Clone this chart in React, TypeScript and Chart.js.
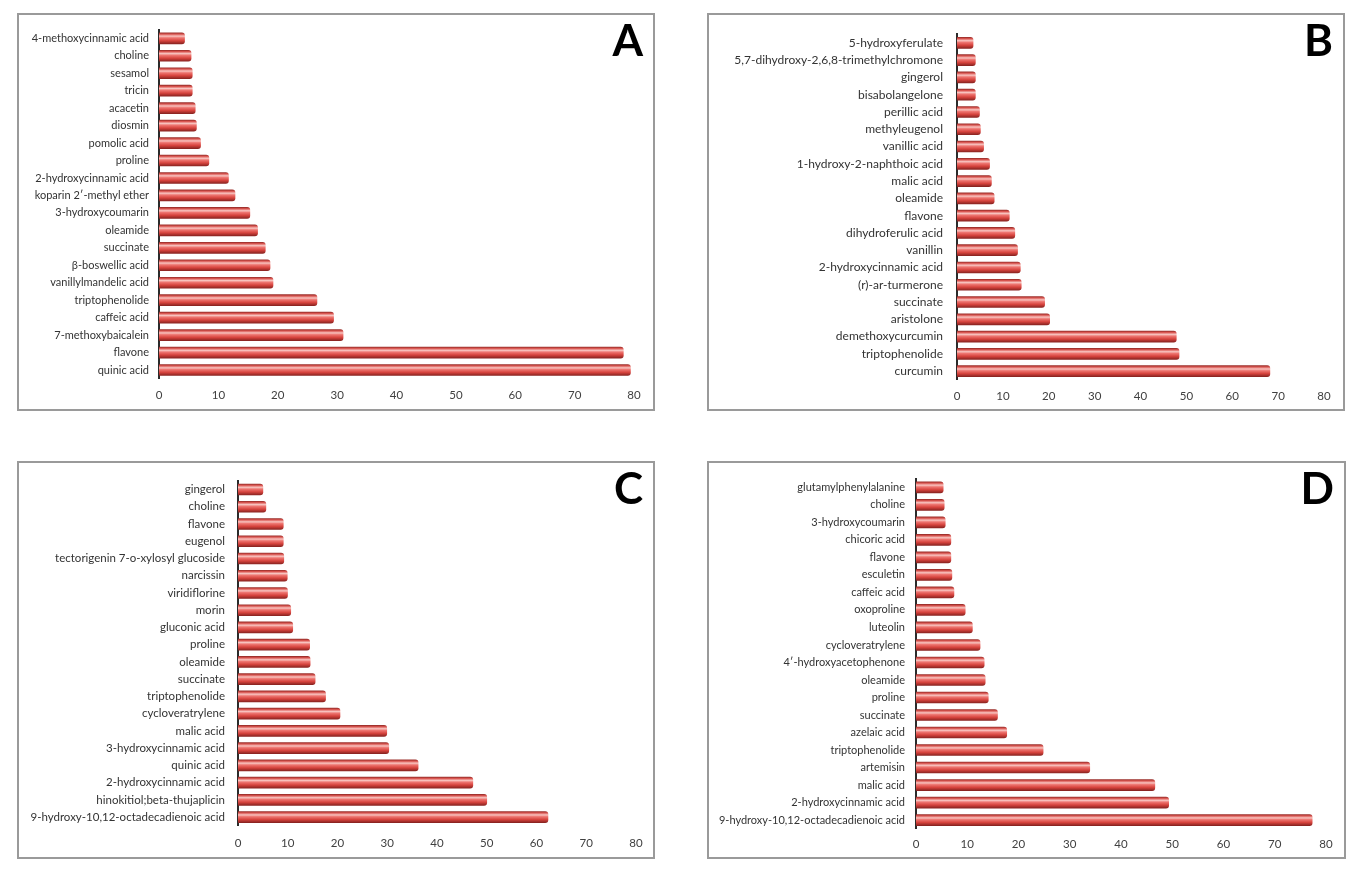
import React, { useEffect, useRef } from 'react';
import { Chart, registerables } from 'chart.js';

Chart.register(...registerables);

// ---------- DATA ----------
const X_MIN = 0;
const X_MAX = 80;
const X_STEP = 10;

const labelsA = ['4-methoxycinnamic acid', 'choline', 'sesamol', 'tricin', 'acacetin', 'diosmin', 'pomolic acid', 'proline', '2-hydroxycinnamic acid', 'koparin 2′-methyl ether', '3-hydroxycoumarin', 'oleamide', 'succinate', 'β-boswellic acid', 'vanillylmandelic acid', 'triptophenolide', 'caffeic acid', '7-methoxybaicalein', 'flavone', 'quinic acid'];
const valuesA = [4.3, 5.4, 5.6, 5.6, 6.1, 6.3, 7.0, 8.4, 11.7, 12.8, 15.3, 16.6, 17.9, 18.7, 19.2, 26.6, 29.4, 31.0, 78.2, 79.4];

const labelsB = ['5-hydroxyferulate', '5,7-dihydroxy-2,6,8-trimethylchromone', 'gingerol', 'bisabolangelone', 'perillic acid', 'methyleugenol', 'vanillic acid', '1-hydroxy-2-naphthoic acid', 'malic acid', 'oleamide', 'flavone', 'dihydroferulic acid', 'vanillin', '2-hydroxycinnamic acid', '(r)-ar-turmerone', 'succinate', 'aristolone', 'demethoxycurcumin', 'triptophenolide', 'curcumin'];
const valuesB = [3.5, 4.0, 4.0, 4.0, 4.9, 5.1, 5.8, 7.1, 7.5, 8.1, 11.4, 12.6, 13.2, 13.8, 14.0, 19.1, 20.2, 47.8, 48.4, 68.2];

const labelsC = ['gingerol', 'choline', 'flavone', 'eugenol', 'tectorigenin 7-o-xylosyl glucoside', 'narcissin', 'viridiflorine', 'morin', 'gluconic acid', 'proline', 'oleamide', 'succinate', 'triptophenolide', 'cycloveratrylene', 'malic acid', '3-hydroxycinnamic acid', 'quinic acid', '2-hydroxycinnamic acid', 'hinokitiol;beta-thujaplicin', '9-hydroxy-10,12-octadecadienoic acid'];
const valuesC = [5.0, 5.6, 9.1, 9.1, 9.2, 9.9, 9.95, 10.6, 11.0, 14.4, 14.5, 15.5, 17.6, 20.5, 29.9, 30.3, 36.2, 47.2, 50.0, 62.3];

const labelsD = ['glutamylphenylalanine', 'choline', '3-hydroxycoumarin', 'chicoric acid', 'flavone', 'esculetin', 'caffeic acid', 'oxoproline', 'luteolin', 'cycloveratrylene', '4′-hydroxyacetophenone', 'oleamide', 'proline', 'succinate', 'azelaic acid', 'triptophenolide', 'artemisin', 'malic acid', '2-hydroxycinnamic acid', '9-hydroxy-10,12-octadecadienoic acid'];
const valuesD = [5.3, 5.5, 5.7, 6.8, 6.8, 7.0, 7.4, 9.6, 11.0, 12.5, 13.3, 13.5, 14.1, 15.9, 17.7, 24.8, 33.9, 46.6, 49.3, 77.3];

const panelLetters = ['A', 'B', 'C', 'D'];

// ---------- LAYOUT (page pixel geometry) ----------
type Geo = {
  bx: number; by: number; bw: number; bh: number;
  axisX: number; endX: number; c0: number; c1: number; tickY: number;
  labelFont: number; gap: number;
};

const geoA: Geo = { bx: 17, by: 13, bw: 638, bh: 398, axisX: 159, endX: 634, c0: 37.7, c1: 370, tickY: 395, labelFont: 11, gap: 10 };
const geoB: Geo = { bx: 707, by: 13, bw: 638, bh: 398, axisX: 957, endX: 1324, c0: 37, c1: 371, tickY: 396, labelFont: 12, gap: 14 };
const geoC: Geo = { bx: 17, by: 461, bw: 638, bh: 398, axisX: 238, endX: 636, c0: 485.7, c1: 817, tickY: 843, labelFont: 11.5, gap: 13 };
const geoD: Geo = { bx: 707, by: 461, bw: 639, bh: 398, axisX: 916, endX: 1326, c0: 484.5, c1: 820, tickY: 844, labelFont: 11, gap: 11 };

const FONT = 'Lato, "Open Sans", sans-serif';

function makeGradient(ctx: CanvasRenderingContext2D, y0: number, y1: number) {
  const g = ctx.createLinearGradient(0, y0, 0, y1);
  g.addColorStop(0, '#9c2f2b');
  g.addColorStop(0.12, '#d9544f');
  g.addColorStop(0.3, '#f8c4c0');
  g.addColorStop(0.46, '#ee7570');
  g.addColorStop(0.72, '#d6433d');
  g.addColorStop(1, '#8a2421');
  return g;
}

type PanelProps = { labels: string[]; values: number[]; letter: string; geo: Geo };

function Panel({ labels, values, letter, geo }: PanelProps) {
  const ref = useRef<HTMLCanvasElement | null>(null);

  useEffect(() => {
    if (!ref.current) return;
    const n = labels.length;
    const spacing = (geo.c1 - geo.c0) / (n - 1);
    const plotTop = geo.c0 - spacing / 2;
    const plotBottom = geo.c1 + spacing / 2;
    const yAxisWidth = geo.axisX - geo.bx;
    const padTop = plotTop - geo.by;
    const padRight = geo.bx + geo.bw - geo.endX;
    const xAxisHeight = geo.by + geo.bh - plotBottom;
    const tickFont = 11.5;
    const tickPad = geo.tickY - plotBottom - (tickFont * 1.2) / 2;
    const barThickness = 11;

    const chart = new Chart(ref.current, {
      type: 'bar',
      data: {
        labels,
        datasets: [
          {
            data: values,
            barThickness,
            borderRadius: 3,
            borderSkipped: 'start',
            borderWidth: 0,
            backgroundColor: (c: any) => {
              const ch = c.chart;
              const ys = ch.scales && ch.scales.y;
              if (!ys || c.type !== 'data') return '#c0504d';
              const yc = ys.getPixelForValue(c.dataIndex);
              if (!Number.isFinite(yc)) return '#c0504d';
              return makeGradient(ch.ctx, yc - barThickness / 2, yc + barThickness / 2);
            },
          },
        ],
      },
      options: {
        indexAxis: 'y',
        animation: false,
        responsive: true,
        maintainAspectRatio: false,
        layout: { padding: { top: padTop, right: padRight, bottom: 0, left: 0 } },
        plugins: { legend: { display: false }, tooltip: { enabled: false } },
        scales: {
          x: {
            min: X_MIN,
            max: X_MAX,
            grid: { display: false, drawTicks: false },
            border: { display: false },
            ticks: {
              stepSize: X_STEP,
              padding: tickPad,
              color: '#404040',
              font: { family: FONT, size: tickFont },
            },
            afterFit: (s: any) => { s.height = xAxisHeight; },
          },
          y: {
            grid: { display: false, drawTicks: false },
            border: { display: true, color: '#2b2b2b', width: 2 },
            ticks: {
              padding: geo.gap,
              color: '#333333',
              autoSkip: false,
              font: { family: FONT, size: geo.labelFont },
            },
            afterFit: (s: any) => { s.width = yAxisWidth; },
          },
        },
      },
    } as any);
    return () => chart.destroy();
  }, [labels, values, geo]);

  return (
    <div style={{ position: 'absolute', left: geo.bx, top: geo.by, width: geo.bw, height: geo.bh }}>
      <div style={{ position: 'absolute', left: 0, top: 0, width: geo.bw, height: geo.bh }}>
        <canvas ref={ref} />
      </div>
      <div style={{ position: 'absolute', left: 0, top: 0, width: geo.bw, height: geo.bh, boxSizing: 'border-box', border: '2px solid #9a9a9a', pointerEvents: 'none' }} />
      <div style={{ position: 'absolute', right: 12, top: 4, fontFamily: FONT, fontWeight: 700, fontSize: 44, lineHeight: '44px', color: '#000' }}>{letter}</div>
    </div>
  );
}

export default function App() {
  return (
    <div style={{ position: 'absolute', left: 0, top: 0, width: 1356, height: 878, background: '#fff', overflow: 'hidden' }}>
      <Panel labels={labelsA} values={valuesA} letter={panelLetters[0]} geo={geoA} />
      <Panel labels={labelsB} values={valuesB} letter={panelLetters[1]} geo={geoB} />
      <Panel labels={labelsC} values={valuesC} letter={panelLetters[2]} geo={geoC} />
      <Panel labels={labelsD} values={valuesD} letter={panelLetters[3]} geo={geoD} />
    </div>
  );
}
